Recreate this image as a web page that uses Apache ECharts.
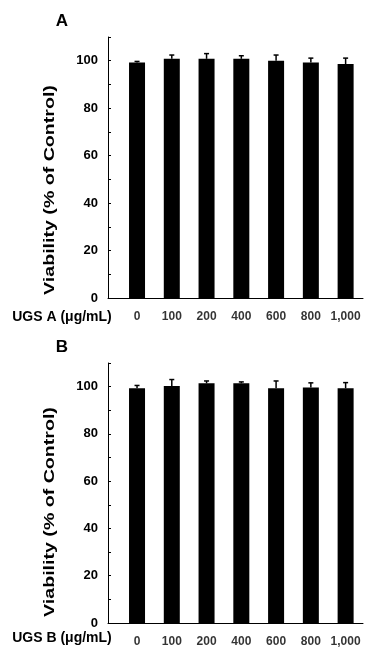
<!DOCTYPE html>
<html>
<head>
<meta charset="utf-8">
<script src="https://cdn.jsdelivr.net/npm/echarts@6/dist/echarts.min.js"></script>
<style>
html,body{margin:0;padding:0;background:#fff;}
#c{width:367px;height:651px;}
</style>
</head>
<body>
<div id="c"></div>
<script>
// ---- data ----
var categories = ['0', '100', '200', '400', '600', '800', '1,000'];
var meanA = [99.3, 100.8, 100.8, 100.8, 100.0, 99.3, 98.6];
var errA  = [0.4, 1.6, 2.2, 1.3, 2.4, 1.8, 2.5];
var meanB = [99.3, 100.3, 101.4, 101.4, 99.3, 99.6, 99.3];
var errB  = [1.2, 2.7, 1.0, 0.6, 3.1, 2.0, 2.4];
var yTicks = [0, 20, 40, 60, 80, 100];
var panelLabels = ['A', 'B'];
var xTitles = ['UGS A (\u03bcg/mL)', 'UGS B (\u03bcg/mL)'];
var yTitle = 'Viability (% of Control)';

var FONT = '"Liberation Sans", Arial, sans-serif';
var chart = echarts.init(document.getElementById('c'), null, {renderer: 'canvas'});

var grids = [
  {left: 108, width: 255, top: 37, height: 261},
  {left: 108, width: 255, top: 363, height: 260}
];

function xAxisCfg(i) {
  return {
    gridIndex: i, type: 'value', min: -0.835, max: 6.5,
    axisLine: {show: true, onZero: false, lineStyle: {color: '#000', width: 1}},
    axisTick: {show: false}, axisLabel: {show: false}, splitLine: {show: false}
  };
}
function yAxisCfg(i) {
  return {
    gridIndex: i, type: 'value', min: 0, max: 110, interval: 10,
    axisLine: {show: true, onZero: false, lineStyle: {color: '#000', width: 1}},
    axisTick: {show: true, inside: true, length: 3, lineStyle: {color: '#000'}},
    axisLabel: {
      margin: 10, color: '#000', fontFamily: FONT, fontWeight: 'bold', fontSize: 13,
      formatter: function (v) { return yTicks.indexOf(v) >= 0 ? String(v) : ''; }
    },
    splitLine: {show: false}
  };
}

function barSeries(i, mean) {
  return {
    type: 'bar', xAxisIndex: i, yAxisIndex: i, barWidth: 16,
    itemStyle: {color: '#000'},
    data: mean.map(function (v, k) { return [k, v]; }),
    z: 2
  };
}
function errSeries(i, mean, err) {
  return {
    type: 'custom', xAxisIndex: i, yAxisIndex: i,
    data: mean.map(function (v, k) { return [k, v, v + err[k]]; }),
    renderItem: function (params, api) {
      var p0 = api.coord([api.value(0), api.value(1)]);
      var p1 = api.coord([api.value(0), api.value(2)]);
      var st = {stroke: '#000', lineWidth: 1.5};
      return {
        type: 'group',
        children: [
          {type: 'line', shape: {x1: p0[0], y1: p0[1], x2: p1[0], y2: p1[1]}, style: st},
          {type: 'line', shape: {x1: p1[0] - 2.5, y1: p1[1], x2: p1[0] + 2.5, y2: p1[1]}, style: st}
        ]
      };
    },
    z: 3
  };
}
function labelSeries(i) {
  return {
    type: 'scatter', xAxisIndex: i, yAxisIndex: i, symbolSize: 0, silent: true,
    data: categories.map(function (c, k) { return [k, 0]; }),
    label: {
      show: true, position: 'bottom', distance: 13,
      color: '#000', fontFamily: FONT, fontWeight: 'bold', fontSize: 12,
      formatter: function (p) { return categories[p.dataIndex]; }
    },
    clip: false, z: 4
  };
}

var graphics = [];
var panelY = [21, 347];
var xTitleY = [317, 638];
var yTitleY = [190, 512];
for (var i = 0; i < 2; i++) {
  graphics.push({
    type: 'text', x: 62, y: panelY[i],
    style: {text: panelLabels[i], fill: '#000', font: 'bold 17px ' + FONT, textAlign: 'center', textVerticalAlign: 'middle'}
  });
  graphics.push({
    type: 'text', x: 62, y: xTitleY[i],
    style: {text: xTitles[i], fill: '#000', font: 'bold 14px ' + FONT, textAlign: 'center', textVerticalAlign: 'middle'}
  });
  graphics.push({
    type: 'text', x: 50, y: yTitleY[i], rotation: Math.PI / 2, scaleX: 1.4,
    style: {text: yTitle, fill: '#000', font: 'bold 14px ' + FONT, textAlign: 'center', textVerticalAlign: 'middle'}
  });
}

chart.setOption({
  animation: false,
  grid: grids,
  xAxis: [xAxisCfg(0), xAxisCfg(1)],
  yAxis: [yAxisCfg(0), yAxisCfg(1)],
  series: [
    barSeries(0, meanA), errSeries(0, meanA, errA), labelSeries(0),
    barSeries(1, meanB), errSeries(1, meanB, errB), labelSeries(1)
  ],
  graphic: graphics
});
</script>
</body>
</html>
